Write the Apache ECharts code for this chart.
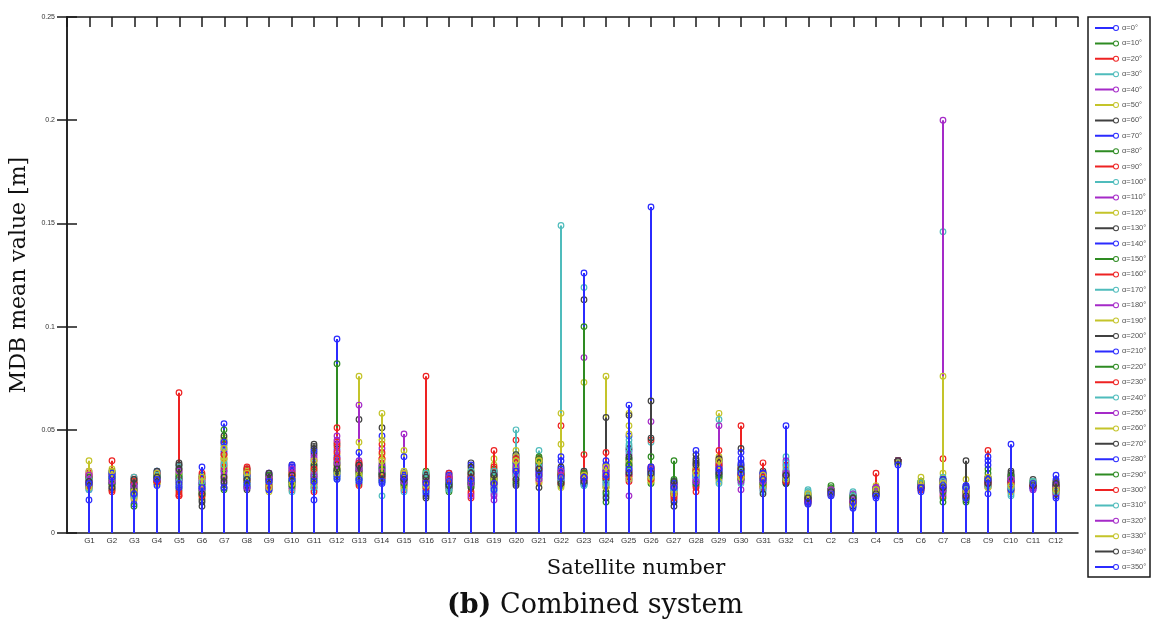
<!DOCTYPE html>
<html><head><meta charset="utf-8">
<script src="https://cdn.jsdelivr.net/npm/echarts@6/dist/echarts.min.js"></script>
<style>html,body{margin:0;padding:0;background:#fff}#c{width:1152px;height:625px}</style>
</head><body><div id="c"></div>
<script>
const satellites = ['G1','G2','G3','G4','G5','G6','G7','G8','G9','G10','G11','G12','G13','G14','G15','G16','G17','G18','G19','G20','G21','G22','G23','G24','G25','G26','G27','G28','G29','G30','G31','G32','C1','C2','C3','C4','C5','C6','C7','C8','C9','C10','C11','C12'];
const angles = [0,10,20,30,40,50,60,70,80,90,100,110,120,130,140,150,160,170,180,190,200,210,220,230,240,250,260,270,280,290,300,310,320,330,340,350];
const yTicks = [0,0.05,0.1,0.15,0.2,0.25];
const palette = ['#2b2bff','#2e8b22','#ee2222','#4fbcbc','#a52ac8','#c4c42a','#404040'];

// MDB mean value [m] for each satellite, one value per alpha (0..350 deg)
const mG1 = [0.025,0.023,0.027,0.022,0.029,0.026,0.024,0.021,0.028,0.025,0.023,0.030,0.027,0.022,0.026,0.024,0.029,0.021,0.025,0.035,0.027,0.023,0.026,0.028,0.022,0.025,0.030,0.024,0.016,0.027,0.023,0.026,0.028,0.022,0.025,0.024];
const mG2 = [0.026,0.028,0.024,0.030,0.022,0.027,0.025,0.029,0.021,0.035,0.026,0.024,0.031,0.023,0.027,0.029,0.025,0.022,0.028,0.026,0.030,0.024,0.027,0.021,0.025,0.028,0.023,0.026,0.029,0.024,0.020,0.027,0.025,0.030,0.022,0.027];
const mG3 = [0.020,0.024,0.018,0.026,0.022,0.016,0.021,0.025,0.019,0.027,0.023,0.017,0.020,0.024,0.014,0.022,0.026,0.019,0.021,0.025,0.018,0.023,0.013,0.020,0.027,0.022,0.017,0.024,0.019,0.021,0.025,0.018,0.023,0.020,0.026,0.019];
const mG4 = [0.027,0.025,0.029,0.026,0.028,0.024,0.027,0.030,0.025,0.028,0.026,0.029,0.024,0.027,0.025,0.028,0.026,0.030,0.027,0.024,0.029,0.026,0.028,0.025,0.027,0.029,0.026,0.030,0.023,0.027,0.025,0.028,0.026,0.029,0.027,0.026];
const mG5 = [0.026,0.029,0.068,0.023,0.031,0.027,0.034,0.025,0.021,0.018,0.028,0.030,0.024,0.033,0.027,0.022,0.019,0.029,0.025,0.031,0.026,0.023,0.028,0.020,0.032,0.026,0.029,0.033,0.022,0.027,0.018,0.025,0.030,0.024,0.031,0.024];
const mG6 = [0.024,0.020,0.027,0.018,0.022,0.025,0.013,0.021,0.028,0.019,0.023,0.026,0.017,0.015,0.024,0.021,0.029,0.020,0.025,0.018,0.027,0.022,0.019,0.026,0.021,0.024,0.020,0.016,0.032,0.023,0.018,0.025,0.021,0.027,0.019,0.022];
const mG7 = [0.030,0.045,0.036,0.041,0.033,0.027,0.044,0.024,0.038,0.034,0.029,0.040,0.046,0.022,0.039,0.031,0.043,0.035,0.026,0.037,0.047,0.053,0.050,0.032,0.042,0.028,0.036,0.025,0.044,0.021,0.038,0.033,0.030,0.041,0.027,0.022];
const mG8 = [0.026,0.029,0.031,0.023,0.027,0.025,0.030,0.022,0.028,0.032,0.024,0.026,0.029,0.021,0.027,0.030,0.025,0.023,0.028,0.026,0.031,0.022,0.027,0.029,0.024,0.026,0.030,0.023,0.028,0.025,0.031,0.027,0.022,0.029,0.026,0.024];
const mG9 = [0.024,0.027,0.022,0.028,0.025,0.021,0.026,0.029,0.023,0.027,0.024,0.026,0.020,0.028,0.025,0.022,0.027,0.024,0.029,0.023,0.026,0.021,0.028,0.025,0.027,0.022,0.024,0.026,0.021,0.028,0.023,0.025,0.027,0.022,0.029,0.025];
const mG10 = [0.028,0.025,0.031,0.022,0.027,0.030,0.033,0.024,0.029,0.021,0.026,0.032,0.028,0.023,0.030,0.025,0.027,0.031,0.022,0.029,0.026,0.033,0.024,0.028,0.020,0.030,0.027,0.025,0.032,0.023,0.029,0.026,0.031,0.024,0.028,0.026];
const mG11 = [0.030,0.024,0.035,0.021,0.027,0.033,0.043,0.038,0.022,0.029,0.026,0.036,0.031,0.041,0.016,0.028,0.023,0.034,0.025,0.030,0.039,0.027,0.032,0.020,0.029,0.037,0.024,0.033,0.040,0.026,0.031,0.022,0.028,0.035,0.042,0.025];
const mG12 = [0.094,0.082,0.051,0.041,0.047,0.038,0.043,0.030,0.035,0.044,0.028,0.040,0.033,0.029,0.037,0.031,0.042,0.027,0.036,0.032,0.030,0.028,0.034,0.039,0.029,0.045,0.031,0.033,0.027,0.030,0.036,0.026,0.034,0.029,0.031,0.026];
const mG13 = [0.030,0.027,0.033,0.025,0.029,0.076,0.055,0.031,0.026,0.034,0.028,0.062,0.044,0.032,0.039,0.024,0.030,0.027,0.035,0.029,0.033,0.026,0.031,0.023,0.028,0.032,0.027,0.030,0.025,0.029,0.034,0.026,0.031,0.028,0.033,0.026];
const mG14 = [0.032,0.028,0.036,0.018,0.041,0.030,0.051,0.047,0.026,0.043,0.029,0.034,0.038,0.027,0.031,0.025,0.039,0.030,0.028,0.045,0.033,0.026,0.029,0.036,0.027,0.032,0.035,0.029,0.024,0.031,0.027,0.025,0.030,0.058,0.028,0.025];
const mG15 = [0.027,0.025,0.029,0.022,0.048,0.040,0.026,0.037,0.028,0.024,0.030,0.026,0.023,0.028,0.025,0.029,0.021,0.027,0.024,0.030,0.026,0.028,0.023,0.027,0.025,0.029,0.022,0.026,0.028,0.024,0.027,0.020,0.025,0.029,0.026,0.027];
const mG16 = [0.025,0.022,0.028,0.020,0.024,0.027,0.018,0.026,0.030,0.076,0.023,0.021,0.029,0.025,0.019,0.027,0.024,0.022,0.028,0.026,0.017,0.023,0.029,0.025,0.021,0.027,0.024,0.028,0.020,0.026,0.022,0.029,0.025,0.023,0.027,0.024];
const mG17 = [0.025,0.027,0.022,0.028,0.024,0.026,0.021,0.029,0.023,0.027,0.025,0.022,0.028,0.024,0.026,0.020,0.027,0.023,0.025,0.028,0.022,0.026,0.024,0.029,0.021,0.027,0.025,0.023,0.028,0.024,0.026,0.022,0.027,0.025,0.023,0.025];
const mG18 = [0.028,0.024,0.019,0.030,0.026,0.022,0.034,0.027,0.025,0.017,0.029,0.023,0.031,0.026,0.033,0.024,0.020,0.028,0.025,0.030,0.022,0.027,0.024,0.029,0.026,0.018,0.028,0.032,0.025,0.023,0.027,0.030,0.024,0.026,0.029,0.026];
const mG19 = [0.025,0.028,0.022,0.030,0.019,0.033,0.026,0.024,0.031,0.027,0.021,0.029,0.036,0.023,0.028,0.025,0.040,0.020,0.016,0.027,0.030,0.024,0.026,0.032,0.022,0.028,0.025,0.029,0.021,0.027,0.024,0.030,0.018,0.026,0.028,0.024];
const mG20 = [0.034,0.031,0.045,0.050,0.037,0.040,0.028,0.036,0.033,0.026,0.038,0.030,0.035,0.024,0.037,0.032,0.029,0.036,0.027,0.034,0.038,0.031,0.025,0.035,0.033,0.029,0.037,0.023,0.034,0.030,0.036,0.028,0.032,0.035,0.026,0.030];
const mG21 = [0.032,0.035,0.029,0.040,0.027,0.033,0.036,0.030,0.037,0.025,0.034,0.031,0.028,0.035,0.033,0.026,0.036,0.030,0.032,0.024,0.034,0.029,0.036,0.031,0.027,0.033,0.035,0.022,0.030,0.034,0.028,0.032,0.026,0.035,0.031,0.028];
const mG22 = [0.028,0.025,0.052,0.149,0.030,0.058,0.027,0.035,0.029,0.024,0.031,0.026,0.043,0.028,0.037,0.023,0.030,0.027,0.025,0.029,0.032,0.026,0.028,0.024,0.030,0.027,0.022,0.029,0.031,0.025,0.028,0.026,0.030,0.027,0.024,0.027];
const mG23 = [0.027,0.025,0.029,0.119,0.085,0.073,0.113,0.126,0.100,0.038,0.030,0.026,0.028,0.024,0.027,0.029,0.025,0.023,0.028,0.026,0.030,0.027,0.024,0.029,0.025,0.027,0.028,0.026,0.024,0.029,0.027,0.023,0.026,0.028,0.025,0.027];
const mG24 = [0.030,0.027,0.033,0.025,0.029,0.076,0.056,0.032,0.022,0.039,0.028,0.024,0.031,0.020,0.035,0.026,0.030,0.018,0.027,0.029,0.023,0.033,0.015,0.028,0.025,0.031,0.022,0.026,0.030,0.019,0.027,0.024,0.029,0.032,0.017,0.028];
const mG25 = [0.040,0.036,0.030,0.043,0.034,0.058,0.057,0.047,0.032,0.027,0.045,0.038,0.052,0.041,0.029,0.035,0.025,0.039,0.031,0.048,0.033,0.026,0.036,0.030,0.042,0.028,0.034,0.037,0.062,0.033,0.028,0.030,0.018,0.026,0.029,0.031];
const mG26 = [0.030,0.028,0.032,0.044,0.054,0.027,0.031,0.029,0.026,0.045,0.030,0.028,0.025,0.046,0.158,0.031,0.027,0.029,0.032,0.026,0.030,0.028,0.024,0.031,0.027,0.029,0.025,0.064,0.030,0.037,0.026,0.028,0.031,0.027,0.029,0.032];
const mG27 = [0.022,0.035,0.020,0.024,0.018,0.023,0.021,0.016,0.025,0.019,0.022,0.024,0.017,0.013,0.021,0.023,0.019,0.025,0.020,0.022,0.015,0.024,0.026,0.018,0.021,0.023,0.020,0.019,0.024,0.022,0.017,0.021,0.023,0.019,0.025,0.022];
const mG28 = [0.028,0.025,0.031,0.023,0.029,0.034,0.038,0.026,0.030,0.022,0.027,0.033,0.029,0.036,0.024,0.031,0.020,0.028,0.025,0.032,0.034,0.027,0.030,0.023,0.029,0.026,0.031,0.035,0.028,0.024,0.030,0.027,0.025,0.029,0.033,0.040];
const mG29 = [0.030,0.033,0.028,0.035,0.031,0.058,0.027,0.034,0.029,0.036,0.055,0.052,0.037,0.032,0.026,0.030,0.040,0.028,0.033,0.031,0.035,0.029,0.027,0.034,0.030,0.032,0.025,0.036,0.031,0.028,0.033,0.024,0.030,0.035,0.029,0.031];
const mG30 = [0.030,0.028,0.052,0.031,0.027,0.029,0.041,0.039,0.032,0.026,0.030,0.021,0.028,0.033,0.036,0.027,0.031,0.025,0.029,0.032,0.026,0.034,0.030,0.028,0.024,0.031,0.027,0.029,0.033,0.026,0.028,0.030,0.025,0.027,0.031,0.029];
const mG31 = [0.026,0.028,0.023,0.029,0.021,0.027,0.030,0.025,0.022,0.034,0.026,0.028,0.024,0.029,0.027,0.023,0.025,0.020,0.028,0.026,0.024,0.029,0.027,0.022,0.025,0.028,0.023,0.026,0.029,0.024,0.027,0.021,0.025,0.028,0.019,0.026];
const mG32 = [0.027,0.025,0.028,0.037,0.035,0.030,0.026,0.028,0.024,0.033,0.034,0.029,0.031,0.025,0.027,0.026,0.028,0.032,0.030,0.027,0.025,0.029,0.026,0.028,0.030,0.027,0.029,0.024,0.026,0.028,0.025,0.027,0.029,0.026,0.028,0.052];
const mC1 = [0.017,0.016,0.018,0.021,0.019,0.017,0.015,0.016,0.018,0.017,0.020,0.019,0.016,0.014,0.015,0.017,0.018,0.020,0.016,0.019,0.017,0.015,0.018,0.016,0.019,0.017,0.018,0.016,0.014,0.017,0.015,0.018,0.016,0.019,0.017,0.015];
const mC2 = [0.020,0.023,0.019,0.020,0.021,0.019,0.020,0.018,0.021,0.020,0.019,0.021,0.020,0.019,0.020,0.022,0.019,0.020,0.021,0.019,0.020,0.018,0.021,0.020,0.019,0.020,0.021,0.019,0.020,0.021,0.019,0.020,0.021,0.019,0.020,0.019];
const mC3 = [0.016,0.018,0.015,0.020,0.017,0.014,0.016,0.013,0.018,0.017,0.019,0.015,0.017,0.014,0.016,0.018,0.016,0.019,0.015,0.017,0.013,0.016,0.018,0.015,0.017,0.019,0.016,0.014,0.012,0.017,0.015,0.018,0.016,0.014,0.017,0.015];
const mC4 = [0.020,0.021,0.029,0.019,0.022,0.020,0.018,0.021,0.019,0.022,0.020,0.021,0.023,0.019,0.017,0.020,0.021,0.022,0.019,0.020,0.022,0.018,0.021,0.020,0.019,0.022,0.021,0.020,0.018,0.021,0.019,0.020,0.022,0.021,0.019,0.018];
const mC5 = [0.034,0.035,0.035,0.034,0.035,0.034,0.035,0.034,0.035,0.035,0.034,0.035,0.034,0.035,0.034,0.035,0.035,0.034,0.035,0.034,0.035,0.034,0.035,0.035,0.034,0.035,0.034,0.035,0.034,0.035,0.035,0.034,0.035,0.034,0.035,0.033];
const mC6 = [0.023,0.024,0.022,0.025,0.023,0.027,0.022,0.024,0.021,0.023,0.025,0.022,0.024,0.023,0.021,0.024,0.022,0.025,0.023,0.024,0.022,0.023,0.025,0.021,0.024,0.022,0.023,0.024,0.020,0.023,0.022,0.024,0.023,0.025,0.022,0.022];
const mC7 = [0.024,0.021,0.036,0.146,0.200,0.076,0.025,0.022,0.015,0.026,0.023,0.020,0.029,0.024,0.021,0.025,0.018,0.027,0.022,0.024,0.026,0.023,0.017,0.025,0.021,0.019,0.024,0.022,0.026,0.020,0.023,0.025,0.021,0.024,0.022,0.023];
const mC8 = [0.020,0.018,0.022,0.019,0.021,0.026,0.035,0.023,0.017,0.020,0.022,0.019,0.021,0.016,0.023,0.018,0.020,0.022,0.019,0.021,0.017,0.022,0.015,0.020,0.018,0.021,0.019,0.022,0.017,0.020,0.018,0.021,0.019,0.020,0.018,0.022];
const mC9 = [0.025,0.031,0.040,0.024,0.026,0.023,0.027,0.037,0.025,0.022,0.026,0.024,0.027,0.023,0.035,0.029,0.025,0.022,0.026,0.024,0.027,0.019,0.025,0.023,0.026,0.024,0.022,0.025,0.033,0.026,0.024,0.023,0.025,0.027,0.024,0.026];
const mC10 = [0.024,0.027,0.021,0.018,0.025,0.022,0.028,0.023,0.026,0.020,0.024,0.027,0.022,0.029,0.025,0.021,0.026,0.023,0.028,0.020,0.025,0.022,0.027,0.024,0.019,0.026,0.023,0.025,0.021,0.028,0.024,0.022,0.026,0.023,0.030,0.043];
const mC11 = [0.023,0.024,0.022,0.025,0.023,0.024,0.026,0.022,0.024,0.023,0.025,0.022,0.024,0.023,0.021,0.025,0.023,0.024,0.022,0.025,0.023,0.024,0.022,0.023,0.025,0.021,0.024,0.023,0.022,0.024,0.023,0.025,0.022,0.024,0.023,0.024];
const mC12 = [0.022,0.024,0.020,0.023,0.021,0.025,0.022,0.019,0.023,0.021,0.024,0.020,0.022,0.025,0.018,0.023,0.021,0.024,0.020,0.022,0.023,0.026,0.021,0.019,0.022,0.024,0.020,0.023,0.028,0.021,0.022,0.020,0.023,0.021,0.024,0.017];

const rows = [mG1,mG2,mG3,mG4,mG5,mG6,mG7,mG8,mG9,mG10,mG11,mG12,mG13,mG14,mG15,mG16,mG17,mG18,mG19,mG20,mG21,mG22,mG23,mG24,mG25,mG26,mG27,mG28,mG29,mG30,mG31,mG32,mC1,mC2,mC3,mC4,mC5,mC6,mC7,mC8,mC9,mC10,mC11,mC12];

const chart = echarts.init(document.getElementById('c'), null, {renderer: 'canvas'});
const serif = 'DejaVu Serif';
const axisLineStyle = {color: '#1a1a1a', width: 1.5};

const series = angles.map((a, i) => {
  const col = palette[i % palette.length];
  return {
    name: 'α=' + a + '°',
    type: 'custom',
    itemStyle: {color: col},
    encode: {x: 0, y: 1},
    data: rows.map((r, j) => [j + 1, r[i]]),
    renderItem: function (params, api) {
      const x = api.value(0), v = api.value(1);
      const p0 = api.coord([x, 0]);
      const p1 = api.coord([x, v]);
      const px = Math.round(p0[0]);
      return {
        type: 'group',
        children: [
          {type: 'line', shape: {x1: px, y1: p0[1], x2: px, y2: p1[1]}, style: {stroke: col, lineWidth: 2}},
          {type: 'circle', shape: {cx: px, cy: p1[1], r: 2.8}, style: {fill: 'none', stroke: col, lineWidth: 1.2}}
        ]
      };
    }
  };
});

chart.setOption({
  animation: false,
  backgroundColor: '#fff',
  grid: {left: 67, top: 17, width: 1011, height: 516, containLabel: false},
  legend: {
    orient: 'vertical', left: 1090, top: 18,
    itemWidth: 24, itemHeight: 10, itemGap: 5.4,
    icon: 'path://M0,4L19,4L19,6L0,6Z M24,5A3,3 0 1,1 18,5A3,3 0 1,1 24,5Z M23,5A2,2 0 1,0 19,5A2,2 0 1,0 23,5Z',
    symbolKeepAspect: true,
    itemStyle: {borderWidth: 0},
    textStyle: {fontSize: 7.5, color: '#555', lineHeight: 10, padding: [0, 0, 0, -2]},
    selectedMode: false,
    data: series.map(s => s.name)
  },
  graphic: [
    {type: 'rect', shape: {x: 1088, y: 17, width: 62, height: 560}, style: {fill: 'none', stroke: '#1a1a1a', lineWidth: 1.5}, silent: true},
    {type: 'text', x: 636, y: 569, silent: true,
     style: {text: 'Satellite number', fontFamily: serif, fontSize: 21, fill: '#111', textAlign: 'center', textVerticalAlign: 'middle'}},
    {type: 'text', x: 595, y: 606, silent: true,
     style: {text: '{b|(b)} Combined system', fontFamily: serif, fontSize: 27, fill: '#111', textAlign: 'center', textVerticalAlign: 'middle',
       rich: {b: {fontFamily: serif, fontSize: 27, fontWeight: 'bold', fill: '#111'}}}}
  ],
  xAxis: [
    {type: 'value', min: 0, max: 45, interval: 1, position: 'bottom',
     axisLine: {onZero: false, lineStyle: axisLineStyle},
     axisTick: {show: false},
     splitLine: {show: false},
     axisLabel: {fontSize: 8, color: '#333', margin: 4,
       formatter: v => (v >= 1 && v <= satellites.length) ? satellites[v - 1] : ''}},
    {type: 'value', min: 0, max: 45, interval: 1, position: 'top',
     axisLine: {onZero: false, lineStyle: axisLineStyle},
     axisTick: {show: true, inside: true, length: 10, lineStyle: axisLineStyle},
     splitLine: {show: false}, axisLabel: {show: false}}
  ],
  yAxis: [
    {type: 'value', min: yTicks[0], max: yTicks[yTicks.length - 1], interval: 0.05, position: 'left',
     name: 'MDB mean value [m]', nameLocation: 'middle', nameGap: 32,
     nameTextStyle: {fontFamily: serif, fontSize: 22, color: '#111'},
     axisLine: {show: true, lineStyle: axisLineStyle},
     axisTick: {show: true, inside: true, length: 10, lineStyle: axisLineStyle},
     splitLine: {show: false},
     axisLabel: {fontSize: 7, color: '#333', margin: 12}},
    {type: 'value', min: yTicks[0], max: yTicks[yTicks.length - 1], interval: 0.05, position: 'right',
     axisLine: {show: true, lineStyle: axisLineStyle},
     axisTick: {show: true, inside: true, length: 10, lineStyle: axisLineStyle},
     splitLine: {show: false}, axisLabel: {show: false}}
  ],
  series: series
});
</script>
</body></html>
